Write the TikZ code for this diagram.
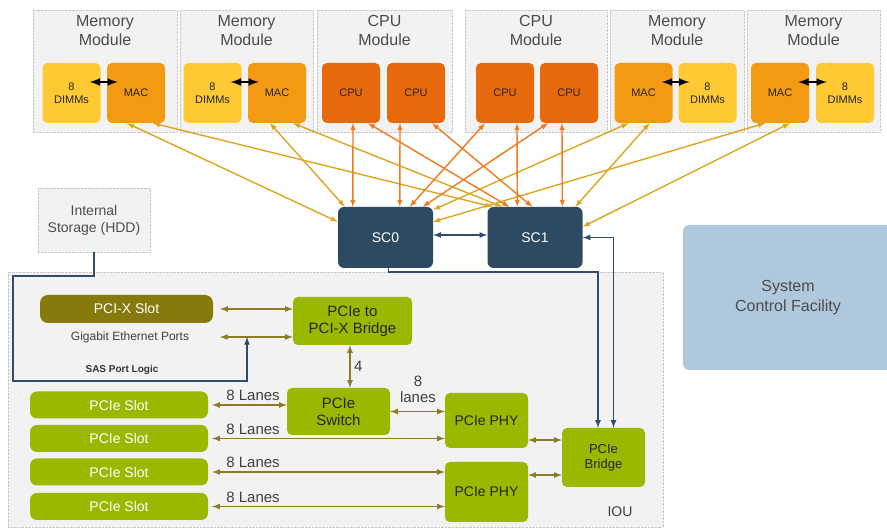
\documentclass[tikz,border=0pt]{standalone}
\usepackage{fontspec}
\setmainfont{Liberation Sans}
\usetikzlibrary{positioning}
\definecolor{dimmyellow}{HTML}{FFC933}
\definecolor{macorange}{HTML}{F39A12}
\definecolor{cpuorange}{HTML}{E8680C}
\definecolor{scblue}{HTML}{2C4A62}
\definecolor{iougreen}{HTML}{99B800}
\definecolor{pcixolive}{HTML}{877A0C}
\definecolor{scfblue}{HTML}{AFC8DC}
\definecolor{wireblue}{HTML}{2F4E6E}
\definecolor{wireolive}{HTML}{8C7B25}
\definecolor{memline}{HTML}{DDA520}
\definecolor{cpuline}{HTML}{F07A20}
\tikzset{
  panel/.style={draw=gray!45, densely dotted, fill=gray!10, inner sep=0pt},
  modtitle/.style={align=center, text=black!70, font=\fontsize{16}{19}\selectfont},
  chip/.style={rounded corners=5pt, minimum width=58pt, minimum height=60pt, inner sep=1pt, align=center, text=black!85, font=\fontsize{11}{12.5}\selectfont},
  dimm/.style={chip, fill=dimmyellow},
  mac/.style={chip, fill=macorange},
  cpu/.style={chip, fill=cpuorange},
  sc/.style={rounded corners=6pt, fill=scblue, text=white, minimum width=95pt, minimum height=61pt, font=\fontsize{14}{16}\selectfont},
  iobox/.style={rounded corners=5pt, fill=iougreen, align=center, inner sep=1pt, text=black!85, font=\fontsize{14}{16}\selectfont},
  slot/.style={rounded corners=7pt, fill=iougreen, text=white, minimum width=178pt, minimum height=27pt, font=\fontsize{14}{16}\selectfont},
  lanetext/.style={text=black!75, font=\fontsize{15}{17}\selectfont},
  memwire/.style={<->, memline, line width=1.4pt},
  cpuwire/.style={<->, cpuline, line width=1.4pt},
  lane/.style={<->, wireolive, line width=1.6pt},
  ctrl/.style={wireblue, line width=1.6pt}
}
\begin{document}
\begin{tikzpicture}[x=1pt, y=1pt, >=latex]
\useasboundingbox (0,0) rectangle (887,530);

\node[panel, minimum width=655pt, minimum height=255pt] (iouPanel) at (335.5,130.5) {};
\node[panel, minimum width=144pt, minimum height=122pt] (modA) at (105,459) {};
\node[panel, minimum width=133pt, minimum height=122pt] (modB) at (246.5,459) {};
\node[panel, minimum width=135pt, minimum height=122pt] (modC) at (384.5,459) {};
\node[panel, minimum width=142pt, minimum height=122pt] (modD) at (536,459) {};
\node[panel, minimum width=134pt, minimum height=122pt] (modE) at (677,459) {};
\node[panel, minimum width=133pt, minimum height=122pt] (modF) at (813.5,459) {};
\node[modtitle, below=2pt of modA.north] (titleA) {Memory\\Module};
\node[modtitle, below=2pt of modB.north] (titleB) {Memory\\Module};
\node[modtitle, below=2pt of modC.north] (titleC) {CPU\\Module};
\node[modtitle, below=2pt of modD.north] (titleD) {CPU\\Module};
\node[modtitle, below=2pt of modE.north] (titleE) {Memory\\Module};
\node[modtitle, below=2pt of modF.north] (titleF) {Memory\\Module};

\node[sc] (sc0) at (385.5,292.5) {SC0};
\node[sc] (sc1) at (535,292.5) {SC1};

\node[dimm] (dimmA) at (71.5,437) {8\\DIMMs};
\node[mac] (macA) at (136,437) {MAC};
\node[dimm] (dimmB) at (212.5,437) {8\\DIMMs};
\node[mac] (macB) at (277,437) {MAC};
\node[cpu] (cpuA) at (351,437) {CPU};
\node[cpu] (cpuB) at (416,437) {CPU};
\node[cpu] (cpuC) at (505,437) {CPU};
\node[cpu] (cpuD) at (569,437) {CPU};
\node[mac] (macC) at (643.5,437) {MAC};
\node[dimm] (dimmC) at (707.5,437) {8\\DIMMs};
\node[mac] (macD) at (780,437) {MAC};
\node[dimm] (dimmD) at (845,437) {8\\DIMMs};

\draw[<->, line width=2.5pt] ([xshift=-11pt, yshift=11pt]dimmA.east) -- ([xshift=11pt, yshift=11pt]macA.west);
\draw[<->, line width=2.5pt] ([xshift=-11pt, yshift=11pt]dimmB.east) -- ([xshift=11pt, yshift=11pt]macB.west);
\draw[<->, line width=2.5pt] ([xshift=-11pt, yshift=11pt]macC.east) -- ([xshift=11pt, yshift=11pt]dimmC.west);
\draw[<->, line width=2.5pt] ([xshift=-11pt, yshift=11pt]macD.east) -- ([xshift=11pt, yshift=11pt]dimmD.west);

\foreach \a/\i/\b/\j/\k in {macA/-9/sc0.north west/0/-15, macA/17/sc1.north west/5/0, macB/-7/sc0.north west/7/0, macB/16/sc1.north west/15/0, macC/-15/sc0.north east/0/-3, macC/6/sc1.north west/88/0, macD/-15/sc0.north east/0/-15, macD/10/sc1.north east/0/-20}
  \draw[memwire] ([xshift=\i pt]\a.south) -- ([xshift=\j pt, yshift=\k pt]\b);
\foreach \a/\i/\b/\j in {cpuA/2/sc0/15, cpuA/17/sc1/22, cpuB/-16/sc0/62, cpuB/16/sc1/45, cpuC/-20/sc0/72, cpuC/12/sc1/30, cpuD/-21/sc0/85, cpuD/-7/sc1/75}
  \draw[cpuwire] ([xshift=\i pt]\a.south) -- ([xshift=\j pt]\b.north west);

\node[panel, align=center, minimum width=112pt, minimum height=64pt, text=black!70, font=\fontsize{14}{17}\selectfont] (hdd) at (94,310) {Internal\\Storage (HDD)};
\node[rounded corners=6pt, fill=scfblue, minimum width=210pt, minimum height=145pt, align=center, text=black!70, font=\fontsize{16}{20}\selectfont] (scf) at (788,232.5) {System\\Control Facility};

\node[rounded corners=8pt, fill=pcixolive, text=white, minimum width=173pt, minimum height=28pt, font=\fontsize{14}{16}\selectfont] (pcix) at (126.5,221) {PCI-X Slot};
\node[text=black!75, font=\fontsize{12}{14}\selectfont] (gbe) at (130,193) {Gigabit Ethernet Ports};
\node[text=black!80, font=\bfseries\fontsize{10}{12}\selectfont] (sas) at (122,160) {SAS Port Logic};
\node[iobox, minimum width=119pt, minimum height=48pt, font=\fontsize{15}{17}\selectfont] (pcixbr) at (352.5,209) {PCIe to\\PCI-X Bridge};
\node[iobox, minimum width=103pt, minimum height=47pt, font=\fontsize{15}{17}\selectfont] (pcisw) at (338.5,118.5) {PCIe\\Switch};
\node[iobox, minimum width=83pt, minimum height=55pt] (phy1) at (486.5,109.5) {PCIe PHY};
\node[iobox, minimum width=83pt, minimum height=60pt] (phy2) at (486.5,38) {PCIe PHY};
\node[iobox, minimum width=83pt, minimum height=59pt, font=\fontsize{13}{15}\selectfont] (pcibr) at (603.5,72.5) {PCIe\\Bridge};
\node[slot] (slot1) at (119,125) {PCIe Slot};
\node[slot] (slot2) at (119,91.5) {PCIe Slot};
\node[slot] (slot3) at (119,58) {PCIe Slot};
\node[slot] (slot4) at (119,23.5) {PCIe Slot};
\node[text=black!75, font=\fontsize{14}{16}\selectfont] (iouLabel) at (620,18) {IOU};

\coordinate (gbeEnd) at (220,193);
\coordinate (gbeTap) at (247,193);
\draw[lane] ([xshift=7pt]pcix.east) -- (pcix.east -| pcixbr.west);
\draw[lane] (gbeEnd) -- (gbeEnd -| pcixbr.west);
\draw[lane] ([xshift=-2.5pt]pcixbr.south) -- ([xshift=-2.5pt]pcixbr.south |- pcisw.north) node[midway, right, lanetext]{4};
\draw[lane] (pcisw.east) -- (pcisw.east -| phy1.west);
\node[lanetext, align=center, font=\fontsize{15}{16}\selectfont] (laneSw) at (418,141) {8\\lanes};
\draw[lane] ([xshift=4pt]slot1.east) -- (slot1.east -| pcisw.west) node[pos=0, anchor=south west, xshift=10pt, lanetext]{8 Lanes};
\draw[lane] ([xshift=4pt]slot2.east) -- (slot2.east -| phy1.west) node[pos=0, anchor=south west, xshift=10pt, lanetext]{8 Lanes};
\draw[lane] ([xshift=4pt]slot3.east) -- (slot3.east -| phy2.west) node[pos=0, anchor=south west, xshift=10pt, lanetext]{8 Lanes};
\draw[lane] ([xshift=4pt]slot4.east) -- (slot4.east -| phy2.west) node[pos=0, anchor=south west, xshift=10pt, lanetext]{8 Lanes};
\draw[lane] ([yshift=-19.5pt]phy1.east) -- ([yshift=-19.5pt]phy1.east -| pcibr.west);
\draw[lane] ([yshift=17pt]phy2.east) -- ([yshift=17pt]phy2.east -| pcibr.west);

\draw[ctrl, <->] ([yshift=2.5pt]sc0.east) -- ([yshift=2.5pt]sc1.west);
\draw[ctrl, <->] (sc1.east) -| ([xshift=10pt]pcibr.north);
\draw[ctrl, ->] ([xshift=3pt]sc0.south) -- ++(0,-4) -| ([xshift=-5.5pt]pcibr.north);
\draw[ctrl, ->] (hdd.south) -- ++(0,-24) -| (13,149) -| (gbeTap);
\end{tikzpicture}
\end{document}
